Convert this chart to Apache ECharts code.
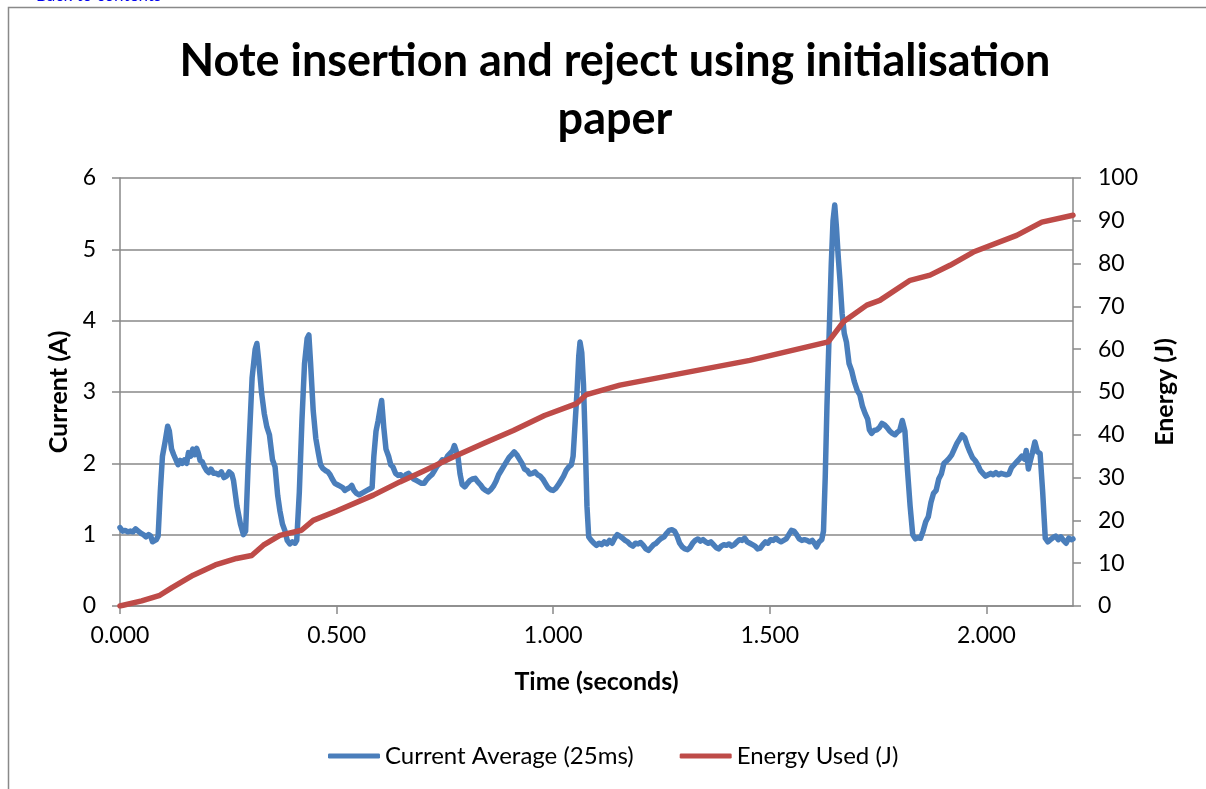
<!DOCTYPE html>
<html>
<head>
<meta charset="utf-8">
<title>Note insertion and reject</title>
<script src="https://cdn.jsdelivr.net/npm/echarts@6/dist/echarts.min.js"></script>
<style>
  html, body { margin: 0; padding: 0; background: #fff; }
  #main { width: 1206px; height: 789px; }
</style>
</head>
<body>
<div id="main"></div>
<script>
// time axis ticks (seconds)
var timeTicks = [0, 0.5, 1, 1.5, 2];

// Current Average (25ms) - time (s) / current (A)
var currentTime = [
  0.000, 0.006, 0.012, 0.018, 0.024, 0.030, 0.036, 0.042, 0.048, 0.054, 0.060, 0.066, 0.071, 0.075, 0.079, 0.084, 0.088, 0.093, 0.098,
  0.104, 0.110, 0.114, 0.119, 0.124, 0.129, 0.134, 0.139, 0.144, 0.149, 0.154, 0.158, 0.163, 0.168, 0.172, 0.177, 0.181, 0.185, 0.190,
  0.195, 0.200, 0.205, 0.210, 0.216, 0.222, 0.228, 0.234, 0.240, 0.246, 0.252, 0.258, 0.262, 0.270, 0.278, 0.285, 0.290, 0.296, 0.305,
  0.312, 0.316, 0.320, 0.327, 0.333, 0.339, 0.345, 0.352, 0.358, 0.364, 0.369, 0.375, 0.381, 0.386, 0.392, 0.398, 0.404, 0.408, 0.414,
  0.420, 0.426, 0.432, 0.436, 0.440, 0.446, 0.452, 0.458, 0.463, 0.468, 0.474, 0.480, 0.485, 0.490, 0.496, 0.502, 0.508, 0.514, 0.519,
  0.524, 0.530, 0.535, 0.540, 0.546, 0.552, 0.558, 0.564, 0.570, 0.576, 0.582, 0.586, 0.591, 0.596, 0.600, 0.604, 0.609, 0.614, 0.620,
  0.625, 0.630, 0.636, 0.642, 0.648, 0.654, 0.660, 0.666, 0.672, 0.678, 0.684, 0.690, 0.696, 0.702, 0.708, 0.714, 0.720, 0.726, 0.732,
  0.738, 0.744, 0.750, 0.756, 0.762, 0.768, 0.772, 0.776, 0.780, 0.785, 0.790, 0.796, 0.802, 0.808, 0.814, 0.820, 0.826, 0.832, 0.838,
  0.844, 0.850, 0.856, 0.862, 0.868, 0.874, 0.880, 0.886, 0.892, 0.898, 0.904, 0.910, 0.916, 0.922, 0.928, 0.934, 0.940, 0.946, 0.952,
  0.958, 0.964, 0.970, 0.976, 0.982, 0.988, 0.994, 1.000, 1.006, 1.012, 1.018, 1.024, 1.030, 1.036, 1.042, 1.046, 1.050, 1.055, 1.059,
  1.062, 1.066, 1.070, 1.074, 1.078, 1.082, 1.088, 1.094, 1.100, 1.106, 1.112, 1.118, 1.124, 1.130, 1.136, 1.142, 1.148, 1.154, 1.160,
  1.166, 1.172, 1.178, 1.184, 1.190, 1.196, 1.202, 1.208, 1.214, 1.220, 1.226, 1.232, 1.238, 1.244, 1.250, 1.256, 1.262, 1.268, 1.274,
  1.280, 1.286, 1.292, 1.298, 1.304, 1.310, 1.316, 1.322, 1.328, 1.334, 1.340, 1.346, 1.352, 1.358, 1.364, 1.370, 1.376, 1.382, 1.388,
  1.394, 1.400, 1.406, 1.412, 1.418, 1.424, 1.430, 1.436, 1.442, 1.448, 1.454, 1.460, 1.466, 1.472, 1.478, 1.484, 1.490, 1.496, 1.502,
  1.508, 1.514, 1.520, 1.526, 1.532, 1.538, 1.544, 1.550, 1.556, 1.562, 1.568, 1.574, 1.580, 1.586, 1.592, 1.598, 1.604, 1.608, 1.614,
  1.620, 1.624, 1.628, 1.632, 1.637, 1.642, 1.646, 1.650, 1.654, 1.658, 1.662, 1.667, 1.672, 1.677, 1.683, 1.689, 1.695, 1.702, 1.708,
  1.714, 1.720, 1.726, 1.730, 1.735, 1.741, 1.747, 1.753, 1.759, 1.765, 1.771, 1.777, 1.783, 1.789, 1.795, 1.800, 1.806, 1.812, 1.818,
  1.824, 1.830, 1.836, 1.842, 1.848, 1.854, 1.860, 1.866, 1.872, 1.878, 1.884, 1.890, 1.896, 1.902, 1.908, 1.914, 1.920, 1.926, 1.932,
  1.938, 1.944, 1.950, 1.956, 1.962, 1.968, 1.974, 1.980, 1.986, 1.992, 1.998, 2.004, 2.010, 2.016, 2.022, 2.028, 2.034, 2.040, 2.046,
  2.052, 2.058, 2.064, 2.070, 2.076, 2.082, 2.088, 2.092, 2.097, 2.101, 2.106, 2.112, 2.118, 2.124, 2.130, 2.136, 2.142, 2.148, 2.154,
  2.160, 2.166, 2.172, 2.178, 2.184, 2.190, 2.196, 2.200
];
var currentValues = [
  1.10, 1.05, 1.06, 1.04, 1.05, 1.04, 1.08, 1.05, 1.02, 1.00, 0.97, 1.00, 0.98, 0.90, 0.88, 0.93, 0.98, 1.60, 2.10,
  2.30, 2.52, 2.45, 2.20, 2.12, 2.05, 1.98, 2.04, 2.00, 2.05, 2.00, 2.15, 2.10, 2.20, 2.12, 2.21, 2.14, 2.04, 2.02,
  1.95, 1.90, 1.87, 1.92, 1.86, 1.86, 1.84, 1.88, 1.80, 1.82, 1.88, 1.85, 1.76, 1.40, 1.15, 1.00, 1.05, 2.00, 3.20,
  3.60, 3.68, 3.45, 2.98, 2.70, 2.51, 2.40, 2.05, 1.95, 1.55, 1.34, 1.15, 1.05, 0.92, 0.87, 0.90, 0.88, 0.92, 1.60,
  2.60, 3.40, 3.75, 3.80, 3.40, 2.74, 2.35, 2.14, 1.98, 1.93, 1.90, 1.88, 1.84, 1.78, 1.72, 1.70, 1.68, 1.66, 1.62,
  1.64, 1.66, 1.69, 1.62, 1.58, 1.56, 1.58, 1.60, 1.62, 1.64, 1.66, 2.10, 2.45, 2.60, 2.75, 2.88, 2.50, 2.20, 2.10,
  1.98, 1.95, 1.86, 1.83, 1.84, 1.80, 1.84, 1.86, 1.82, 1.78, 1.76, 1.74, 1.72, 1.72, 1.77, 1.81, 1.84, 1.90, 1.96,
  2.00, 2.05, 2.03, 2.10, 2.14, 2.18, 2.25, 2.24, 2.10, 1.85, 1.70, 1.67, 1.72, 1.76, 1.78, 1.79, 1.74, 1.70, 1.65,
  1.62, 1.60, 1.63, 1.68, 1.75, 1.84, 1.90, 1.96, 2.02, 2.08, 2.12, 2.16, 2.12, 2.06, 2.00, 1.92, 1.90, 1.85, 1.86,
  1.88, 1.84, 1.82, 1.78, 1.72, 1.66, 1.63, 1.62, 1.65, 1.70, 1.76, 1.82, 1.90, 1.95, 1.98, 2.10, 2.50, 3.00, 3.50,
  3.70, 3.55, 3.10, 2.30, 1.40, 0.97, 0.92, 0.88, 0.85, 0.88, 0.86, 0.90, 0.87, 0.92, 0.88, 0.95, 1.00, 0.98, 0.95,
  0.92, 0.90, 0.86, 0.84, 0.88, 0.87, 0.89, 0.85, 0.80, 0.78, 0.82, 0.86, 0.88, 0.92, 0.95, 0.97, 1.02, 1.06, 1.07,
  1.05, 0.98, 0.88, 0.83, 0.80, 0.79, 0.82, 0.88, 0.92, 0.94, 0.91, 0.93, 0.90, 0.88, 0.90, 0.86, 0.82, 0.80, 0.84,
  0.86, 0.85, 0.87, 0.84, 0.86, 0.90, 0.93, 0.92, 0.95, 0.90, 0.88, 0.86, 0.84, 0.80, 0.81, 0.86, 0.90, 0.88, 0.93,
  0.92, 0.95, 0.92, 0.90, 0.92, 0.94, 1.00, 1.06, 1.05, 1.00, 0.94, 0.92, 0.93, 0.92, 0.90, 0.92, 0.87, 0.83, 0.90,
  0.93, 1.05, 1.80, 2.80, 3.80, 4.80, 5.40, 5.62, 5.30, 4.90, 4.57, 4.10, 3.82, 3.70, 3.40, 3.30, 3.15, 3.02, 2.96,
  2.80, 2.70, 2.62, 2.47, 2.42, 2.46, 2.47, 2.50, 2.56, 2.54, 2.50, 2.45, 2.42, 2.40, 2.44, 2.46, 2.60, 2.45, 1.90,
  1.40, 1.00, 0.94, 0.96, 0.95, 1.05, 1.18, 1.25, 1.45, 1.58, 1.62, 1.78, 1.85, 2.00, 2.03, 2.07, 2.12, 2.20, 2.28,
  2.34, 2.40, 2.36, 2.25, 2.16, 2.08, 2.04, 1.98, 1.90, 1.86, 1.82, 1.84, 1.86, 1.84, 1.87, 1.84, 1.86, 1.85, 1.84,
  1.85, 1.94, 1.98, 2.02, 2.06, 2.10, 2.06, 2.18, 1.92, 2.02, 2.14, 2.30, 2.16, 2.14, 1.60, 0.95, 0.90, 0.93, 0.96,
  0.98, 0.93, 0.97, 0.92, 0.88, 0.95, 0.93, 0.94
];

// Energy Used (J) - time (s) / energy (J)
var energyTime = [0.000, 0.050, 0.092, 0.120, 0.169, 0.220, 0.269, 0.304, 0.331, 0.369, 0.419, 0.446, 0.500, 0.585, 0.646, 0.700,
  0.769, 0.840, 0.908, 0.980, 1.054, 1.077, 1.154, 1.293, 1.454, 1.635, 1.670, 1.724, 1.754, 1.824, 1.870, 1.916, 1.970, 2.070,
  2.128, 2.200];
var energyValues = [0, 1.2, 2.5, 4.3, 7.2, 9.6, 11.1, 11.8, 14.2, 16.5, 17.7, 20.0, 22.2, 25.9, 29.0, 31.5,
  34.8, 38.0, 41.0, 44.5, 47.3, 49.4, 51.6, 54.3, 57.4, 61.7, 66.4, 70.3, 71.4, 76.1, 77.3, 79.6, 82.7, 86.6,
  89.7, 91.3];

var currentData = currentTime.map(function (t, i) { return [t, currentValues[i]]; });
var energyData = energyTime.map(function (t, i) { return [t, energyValues[i]]; });

var FONT = 'Lato';
var GRAY = '#898989';

var myChart = echarts.init(document.getElementById('main'));
myChart.setOption({
  animation: false,
  backgroundColor: '#fff',
  textStyle: { fontFamily: FONT, color: '#000' },
  title: {
    text: 'Note insertion and reject using initialisation\npaper',
    left: 610,
    top: 27,
    textAlign: 'center',
    textStyle: { fontFamily: FONT, fontSize: 45, fontWeight: 'bold', color: '#000', lineHeight: 58 }
  },
  graphic: [
    {
      type: 'rect',
      shape: { x: 8.5, y: 7.5, width: 1400, height: 900 },
      style: { fill: null, stroke: GRAY, lineWidth: 1.5 },
      silent: true
    },
    {
      type: 'text',
      left: 36,
      top: -13,
      style: { text: 'Back to contents', fill: '#0000ee', font: '17px Lato' },
      silent: true
    }
  ],
  legend: {
    left: 323,
    top: 739,
    icon: 'roundRect',
    itemWidth: 52,
    itemHeight: 5,
    itemGap: 46,
    textStyle: { fontFamily: FONT, fontSize: 24, color: '#000' },
    data: ['Current Average (25ms)', 'Energy Used (J)']
  },
  grid: { left: 120, right: 133, top: 178, bottom: 183 },
  xAxis: {
    type: 'value',
    min: 0,
    max: 2.2,
    interval: 0.5,
    name: 'Time (seconds)',
    nameLocation: 'middle',
    nameGap: 63,
    nameTextStyle: { fontFamily: FONT, fontSize: 25, fontWeight: 'bold', color: '#000' },
    axisLine: { show: true, lineStyle: { color: GRAY, width: 1.5 } },
    axisTick: { show: true, customValues: timeTicks, length: 8, lineStyle: { color: GRAY, width: 1.5 } },
    axisLabel: {
      customValues: timeTicks,
      margin: 18,
      fontFamily: FONT, fontSize: 23, color: '#000',
      formatter: function (v) { return v.toFixed(3); }
    },
    splitLine: { show: false }
  },
  yAxis: [
    {
      type: 'value',
      min: 0,
      max: 6,
      interval: 1,
      name: 'Current (A)',
      nameLocation: 'middle',
      nameGap: 49,
      nameRotate: 90,
      nameTextStyle: { fontFamily: FONT, fontSize: 25, fontWeight: 'bold', color: '#000' },
      axisLine: { show: true, lineStyle: { color: GRAY, width: 1.5 } },
      axisTick: { show: true, length: 8, lineStyle: { color: GRAY, width: 1.5 } },
      axisLabel: { margin: 24, fontFamily: FONT, fontSize: 23, color: '#000' },
      splitLine: { show: true, lineStyle: { color: GRAY, width: 1.5 } }
    },
    {
      type: 'value',
      min: 0,
      max: 100,
      interval: 10,
      position: 'right',
      name: 'Energy (J)',
      nameLocation: 'middle',
      nameGap: 79,
      nameRotate: 90,
      nameTextStyle: { fontFamily: FONT, fontSize: 25, fontWeight: 'bold', color: '#000' },
      axisLine: { show: true, lineStyle: { color: GRAY, width: 1.5 } },
      axisTick: { show: true, length: 8, lineStyle: { color: GRAY, width: 1.5 } },
      axisLabel: { margin: 25, fontFamily: FONT, fontSize: 23, color: '#000' },
      splitLine: { show: false }
    }
  ],
  series: [
    {
      name: 'Current Average (25ms)',
      type: 'line',
      yAxisIndex: 0,
      data: currentData,
      showSymbol: false,
      symbol: 'none',
      lineStyle: { color: '#4a7ebb', width: 5.5, join: 'round', cap: 'round' },
      itemStyle: { color: '#4a7ebb' },
      z: 3
    },
    {
      name: 'Energy Used (J)',
      type: 'line',
      yAxisIndex: 1,
      data: energyData,
      showSymbol: false,
      symbol: 'none',
      lineStyle: { color: '#be4b48', width: 5.5, join: 'round', cap: 'round' },
      itemStyle: { color: '#be4b48' },
      z: 4
    }
  ]
});
</script>
</body>
</html>
